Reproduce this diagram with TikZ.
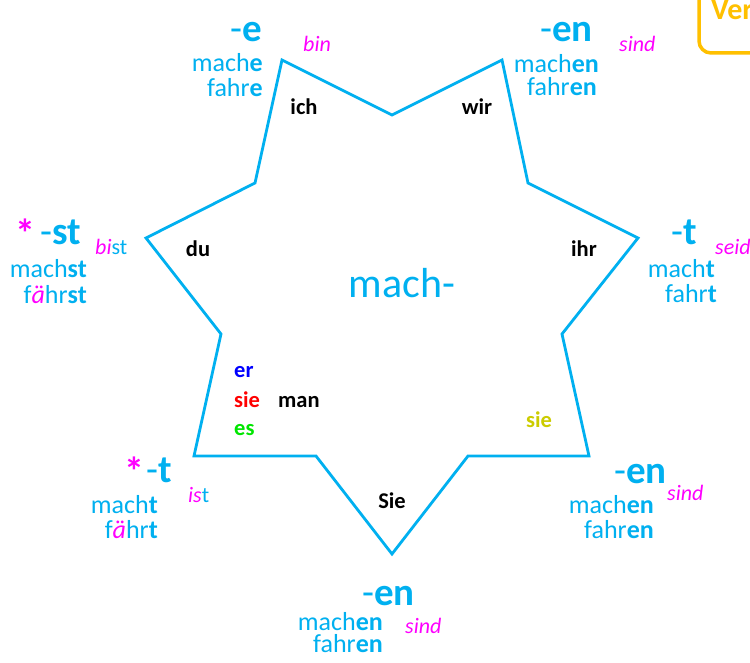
\documentclass[tikz,border=0pt]{standalone}
\usepackage{fontspec}
\setmainfont{Carlito}
\definecolor{cy}{RGB}{0,176,240}
\definecolor{mg}{RGB}{255,0,255}
\definecolor{ol}{RGB}{204,204,0}
\definecolor{orng}{RGB}{255,192,0}
\definecolor{gr}{RGB}{0,230,0}
\newcommand{\mgi}[1]{\textcolor{mg}{\textit{#1}}}
\begin{document}
\begin{tikzpicture}[x=1pt,y=-1pt,
  form/.style={text=cy,font=\fontsize{26}{26}\selectfont,inner sep=0pt},
  ending/.style={text=cy,font=\fontsize{39}{39}\selectfont,inner sep=0pt},
  irr/.style={text=mg,font=\fontsize{22}{22}\selectfont\itshape,inner sep=0pt},
  pron/.style={font=\fontsize{22.5}{22.5}\selectfont\bfseries,inner sep=0pt},
  star/.style={text=mg,font=\fontsize{40}{40}\selectfont\bfseries,inner sep=0pt},
  stem/.style={text=cy,font=\fontsize{42}{42}\selectfont,inner sep=0pt}]
\useasboundingbox (0,0) rectangle (750,663);
\clip (0,0) rectangle (750,663);
\fill[white] (0,0) rectangle (750,663);
% star vertices
\coordinate (p1) at (282,60);
\coordinate (i1) at (392,115);
\coordinate (p2) at (502,60);
\coordinate (i2) at (528,183);
\coordinate (p3) at (638,238);
\coordinate (i3) at (562,334);
\coordinate (p4) at (589,456);
\coordinate (i4) at (468,456);
\coordinate (p5) at (392,554);
\coordinate (i5) at (316,456);
\coordinate (p6) at (194,456);
\coordinate (i6) at (221,334);
\coordinate (p7) at (146,238);
\coordinate (i7) at (255,183);
\draw[cy,line width=2.8pt,line join=miter] (p1)--(i1)--(p2)--(i2)--(p3)--(i3)--(p4)--(i4)--(p5)--(i5)--(p6)--(i6)--(p7)--(i7)--cycle;
% Ver box
\draw[orng,line width=3.5pt,rounded corners=12pt] (699,-30) -- (699,53) -- (800,53);
\node[anchor=base west,text=orng,font=\fontsize{30}{30}\selectfont\bfseries,inner sep=0pt] (ver) at (711,20) {Ver};
% stem
\node[stem] (stemtext) at (402,283) {mach-};
% pronouns
\node[pron,anchor=base] (ich) at (304,115) {ich};
\node[pron,anchor=base] (wir) at (477,115) {wir};
\node[pron,anchor=base] (du) at (198,257) {du};
\node[pron,anchor=base] (ihr) at (584,257) {ihr};
\node[pron,anchor=base west,text=blue] (er) at (234,377) {er};
\node[pron,anchor=base west,text=red] (sie1) at (234,407) {sie};
\node[pron,anchor=base west,text=gr] (es) at (234,435) {es};
\node[pron,anchor=base west] (man) at (278,407) {man};
\node[pron,anchor=base west,text=ol] (sie3) at (526,427) {sie};
\node[pron,anchor=base] (Sie) at (392,508) {Sie};
% ich
\node[ending,anchor=base east] (e1) at (262,42) {-\textbf{e}};
\node[form,anchor=base east] (e1a) at (263,72) {mach\textbf{e}};
\node[form,anchor=base east] (e1b) at (263,97) {fahr\textbf{e}};
\node[irr,anchor=base west] (e1c) at (303,52) {bin};
% wir
\node[ending,anchor=base east] (e2) at (593,42) {-\textbf{en}};
\node[form,anchor=base east] (e2a) at (599,73) {mach\textbf{en}};
\node[form,anchor=base east] (e2b) at (597,96) {fahr\textbf{en}};
\node[irr,anchor=base west] (e2c) at (619,52) {sind};
% du
\node[star,anchor=base west] (s3) at (15,248) {*};
\node[ending,anchor=base east] (e3) at (81,245) {-\textbf{st}};
\node[form,anchor=base east] (e3a) at (87,277) {mach\textbf{st}};
\node[form,anchor=base east] (e3b) at (87,303) {f\mgi{ä}hr\textbf{st}};
\node[irr,anchor=base west] (e3c) at (95,255) {bi\textcolor{cy}{\upshape st}};
% ihr
\node[ending,anchor=base east] (e4) at (697,245) {-\textbf{t}};
\node[form,anchor=base east] (e4a) at (715,277) {mach\textbf{t}};
\node[form,anchor=base east] (e4b) at (717,302) {fahr\textbf{t}};
\node[irr,anchor=base west] (e4c) at (715,255) {seid};
% er sie es
\node[star,anchor=base west] (s5) at (124,485) {*};
\node[ending,anchor=base east] (e5) at (172,482) {-\textbf{t}};
\node[form,anchor=base east] (e5a) at (158,513) {mach\textbf{t}};
\node[form,anchor=base east] (e5b) at (158,538) {f\mgi{ä}hr\textbf{t}};
\node[irr,anchor=base west] (e5c) at (188,502) {is\textcolor{cy}{\upshape t}};
% sie (plural)
\node[ending,anchor=base east] (e6) at (667,483) {-\textbf{en}};
\node[form,anchor=base east] (e6a) at (654,513) {mach\textbf{en}};
\node[form,anchor=base east] (e6b) at (654,538) {fahr\textbf{en}};
\node[irr,anchor=base west] (e6c) at (667,500) {sind};
% Sie
\node[ending,anchor=base east] (e7) at (415,605) {-\textbf{en}};
\node[form,anchor=base east] (e7a) at (383,630) {mach\textbf{en}};
\node[form,anchor=base east] (e7b) at (383,652) {fahr\textbf{en}};
\node[irr,anchor=base west] (e7c) at (405,633) {sind};
\end{tikzpicture}
\end{document}
